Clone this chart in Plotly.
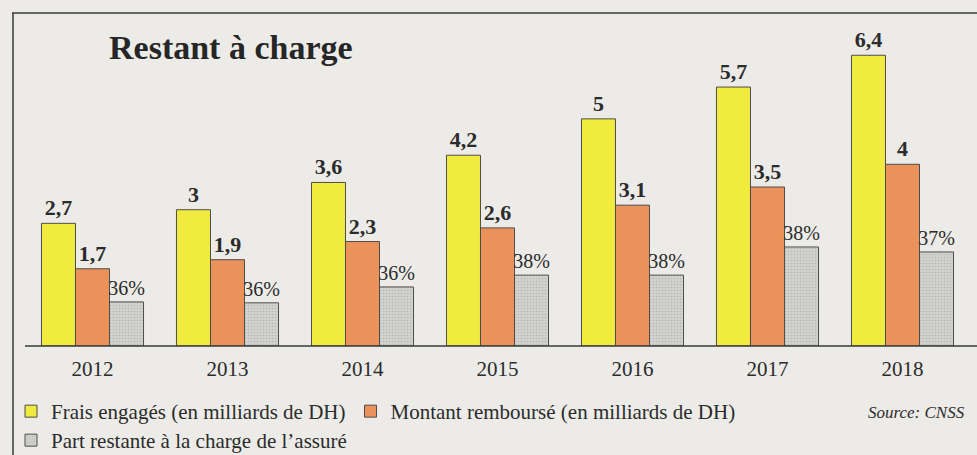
import plotly.graph_objects as go

years = ["2012", "2013", "2014", "2015", "2016", "2017", "2018"]
frais = [2.7, 3.0, 3.6, 4.2, 5.0, 5.7, 6.4]
rembourse = [1.7, 1.9, 2.3, 2.6, 3.1, 3.5, 4.0]
# grey bar heights as drawn (in DH units), labelled with percentages
part_heights = [0.97, 0.95, 1.30, 1.56, 1.56, 2.18, 2.07]
part_labels = ["36%", "36%", "36%", "38%", "38%", "38%", "37%"]

def fr(v):
    return f"{v:g}".replace(".", ",")

SERIF = "Liberation Serif"
INK = "#2b2b2b"
EDGE = "#4d4d4d"

fig = go.Figure()
fig.add_trace(go.Bar(
    x=years, y=frais, name="Frais engagés (en milliards de DH)",
    marker=dict(color="#f1ea3f", line=dict(color=EDGE, width=1)),
    text=[fr(v) for v in frais], textposition="outside",
    textfont=dict(family=SERIF, size=22, color=INK, weight="bold"),
    constraintext="none", cliponaxis=False, legend="legend",
))
fig.add_trace(go.Bar(
    x=years, y=rembourse, name="Montant remboursé (en milliards de DH)",
    marker=dict(color="#ea925a", line=dict(color=EDGE, width=1)),
    text=[fr(v) for v in rembourse], textposition="outside",
    textfont=dict(family=SERIF, size=22, color=INK, weight="bold"),
    constraintext="none", cliponaxis=False, legend="legend",
))
fig.add_trace(go.Bar(
    x=years, y=part_heights, name="Part restante à la charge de l’assuré",
    marker=dict(color="#c9c9c7", line=dict(color=EDGE, width=1),
                pattern=dict(shape=".", fgcolor="#9b9b99", bgcolor="#d2d2d0",
                             size=3, solidity=0.25)),
    text=part_labels, textposition="outside",
    textfont=dict(family=SERIF, size=20, color=INK),
    constraintext="none", cliponaxis=False, legend="legend2",
))

L, R, T, B = 25, 7, 28, 109
W, H = 977, 455
pw, ph = W - L - R, H - T - B
base = H - B

def px(x):
    return (x - L) / pw

def py(y):
    return (base - y) / ph

legend_common = dict(orientation="h", xanchor="left", yanchor="top",
                     font=dict(family=SERIF, size=21, color=INK),
                     bgcolor="rgba(0,0,0,0)", traceorder="normal", itemclick=False)

fig.update_layout(
    width=W, height=H,
    margin=dict(l=L, r=R, t=T, b=B, pad=0, autoexpand=False),
    paper_bgcolor="#ecebe8", plot_bgcolor="rgba(0,0,0,0)",
    barmode="group", bargap=0.244, bargroupgap=0,
    font=dict(family=SERIF, color=INK),
    showlegend=True,
    legend=dict(x=px(11), y=py(391), **legend_common),
    legend2=dict(x=px(11), y=py(420), **legend_common),
    xaxis=dict(showgrid=False, showline=False, zeroline=False, ticks="",
               tickfont=dict(family=SERIF, size=21, color=INK),
               ticklabelstandoff=8),
    yaxis=dict(range=[0, 7], visible=False, showgrid=False, zeroline=False),
    annotations=[
        dict(text="<b>Restant à charge</b>", x=px(107), y=py(47), xref="paper", yref="paper",
             xanchor="left", yanchor="middle", showarrow=False,
             font=dict(family=SERIF, size=34, color="#262626")),
        dict(text="<i>Source: CNSS</i>", x=px(967), y=py(412), xref="paper", yref="paper",
             xanchor="right", yanchor="middle", showarrow=False,
             font=dict(family=SERIF, size=17, color=INK)),
    ],
    shapes=[
        dict(type="line", xref="paper", yref="paper", x0=px(12), x1=px(977), y0=py(13), y1=py(13),
             line=dict(color="#3a3a3a", width=1.5)),
        dict(type="line", xref="paper", yref="paper", x0=px(13), x1=px(13), y0=py(13), y1=py(455),
             line=dict(color="#3a3a3a", width=1.5)),
        dict(type="line", xref="paper", yref="paper", x0=0, x1=px(977), y0=0, y1=0,
             line=dict(color="#3a3a3a", width=1.5), layer="above"),
    ],
)

fig.write_html("out.html", config={"displayModeBar": False},
               post_script="document.body.style.margin='0';document.body.style.overflow='hidden';")
